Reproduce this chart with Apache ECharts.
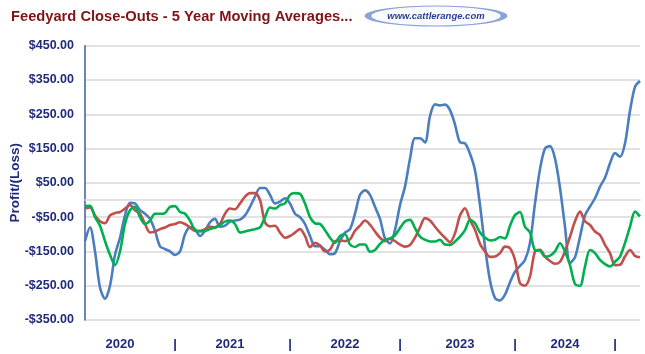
<!DOCTYPE html>
<html>
<head>
<meta charset="utf-8">
<script src="https://cdn.jsdelivr.net/npm/echarts@6/dist/echarts.min.js"></script>
<style>
  html, body { margin: 0; padding: 0; background: #fff; }
  #main { width: 645px; height: 354px; }
</style>
</head>
<body>
<div id="main"></div>
<script>
// weekly points, 2020 -> early 2025
const weeks = [];
for (let i = 0; i < 112; i++) weeks.push(String(i));

// year labels under the axis and where they sit (week index)
const tickText = ['2020', '|', '2021', '|', '2022', '|', '2023', '|', '2024', '|'];
const tickIdx = [7, 18, 29, 41, 52, 63, 75, 86, 96, 106];

const blueSeries = [
  -120, -80, -150, -255, -288, -250, -160, -110, -45, -8, -10, -30, -40, -55, -90, -135, -143, -150, -160, -150,
  -100, -80, -85, -105, -90, -65, -55, -78, -75, -63, -60, -57, -45, -20, 10, 35, 35, 15,
  -10, -5, 5, -10, -40, -50, -70, -105, -135, -135, -145, -158, -155, -120, -95, -85, -40, 15, 28, 15,
  -20, -55, -112, -127, -87, -15, 39, 120, 180, 180, 168, 245, 279, 276, 278, 262, 220, 168,
  165, 135, 87, -15, -136, -235, -286, -293, -276, -240, -209, -192, -175, -125, -10, 90, 150, 157, 121, 35,
  -78, -184, -167, -107, -45, -19, 5, 39, 65, 107, 137, 126, 165, 260, 330, 347
];

const redSeries = [
  -25, -22, -45, -62, -68, -45, -38, -35, -25, -15, -30, -40, -70, -95, -92, -85, -80, -73, -70, -65,
  -70, -80, -90, -90, -85, -78, -80, -70, -40, -25, -27, -10, 10, 20, 20, 0, -65, -77,
  -75, -95, -110, -105, -95, -85, -105, -138, -125, -133, -150, -145, -120, -118, -120, -115, -90, -75, -60, -72,
  -92, -110, -120, -113, -120, -130, -136, -131, -110, -80, -53, -60, -78, -95, -110, -123, -97, -45,
  -24, -58, -87, -128, -150, -166, -165, -155, -136, -141, -175, -243, -250, -223, -150, -145, -165, -178, -186, -180,
  -150, -107, -62, -34, -62, -73, -92, -102, -131, -155, -190, -189, -165, -146, -163, -167
];

const greenSeries = [
  -18, -17, -50, -75, -120, -160, -190, -150, -70, -30, -20, -50, -70, -60, -40, -40, -38, -20, -18, -35,
  -40, -60, -88, -92, -90, -85, -80, -73, -63, -60, -70, -95, -92, -88, -85, -80, -50, -22,
  -25, -15, -10, 15, 20, 18, -10, -50, -68, -70, -88, -110, -125, -105, -100, -130, -137, -130, -130, -151,
  -146, -128, -116, -112, -103, -82, -63, -58, -82, -107, -116, -121, -121, -116, -130, -131, -121, -107,
  -88, -58, -68, -95, -110, -118, -116, -108, -112, -75, -44, -35, -78, -95, -146, -148, -165, -162, -150, -126,
  -150, -190, -245, -250, -194, -146, -155, -175, -187, -194, -180, -165, -125, -78, -34, -48
];

var chartDom = document.getElementById('main');
var myChart = echarts.init(chartDom, null, { renderer: 'canvas' });

var navy = '#1F2A7A';
var labelFont = 'Liberation Sans';

function lineSeries(name, data, color) {
  return {
    name: name,
    type: 'line',
    data: data,
    showSymbol: false,
    smooth: 0.3,
    lineStyle: { color: color, width: 2.6 },
    itemStyle: { color: color }
  };
}

var option = {
  animation: false,
  title: {
    text: 'Feedyard Close-Outs - 5 Year Moving Averages...',
    left: 6,
    top: 4,
    textStyle: {
      color: '#7F1416',
      fontFamily: labelFont,
      fontWeight: 'bold',
      fontSize: 14.7
    }
  },
  graphic: [
    {
      type: 'circle',
      shape: { cx: 0, cy: 0, r: 10 },
      x: 436, y: 16,
      scaleX: 6.8, scaleY: 1,
      style: { fill: '#FAFBFE', stroke: '#8EA2DA', lineWidth: 1, strokeNoScale: true }
    },
    {
      type: 'text',
      x: 436, y: 16,
      style: {
        text: 'www.cattlerange.com',
        fill: '#2B3F92',
        font: 'italic bold 9.5px "Liberation Sans Narrow", "Liberation Sans"',
        align: 'center',
        verticalAlign: 'middle'
      }
    }
  ],
  grid: {
    left: 85,
    right: 5,
    top: 45.7,
    bottom: 34,
    outerBoundsMode: 'none',
    containLabel: false
  },
  xAxis: [
    {
      type: 'category',
      data: weeks,
      boundaryGap: false,
      axisLine: { onZero: true, lineStyle: { color: '#D9D9D9', width: 1.5 } },
      axisTick: { show: false },
      axisLabel: { show: false },
      splitLine: { show: false }
    },
    {
      type: 'category',
      data: weeks,
      position: 'bottom',
      boundaryGap: false,
      axisLine: { show: false },
      axisTick: { show: false },
      axisLabel: {
        interval: 0,
        margin: 18,
        color: navy,
        fontFamily: labelFont,
        fontWeight: 'bold',
        fontSize: 13,
        formatter: function (v, i) {
          var k = tickIdx.indexOf(i);
          return k >= 0 ? tickText[k] : '';
        }
      }
    }
  ],
  yAxis: {
    type: 'value',
    min: -350,
    max: 450,
    interval: 100,
    name: 'Profit/(Loss)',
    nameLocation: 'middle',
    nameGap: 63,
    nameMoveOverlap: false,
    nameTextStyle: {
      color: navy,
      fontFamily: labelFont,
      fontWeight: 'bold',
      fontSize: 13.5
    },
    axisLine: { show: true, lineStyle: { color: '#3D5E9E', width: 1.5 } },
    axisTick: { show: false },
    axisLabel: {
      margin: 11,
      color: navy,
      fontFamily: labelFont,
      fontWeight: 'bold',
      fontSize: 12.5,
      formatter: function (v) {
        return (v < 0 ? '-$' : '$') + Math.abs(v).toFixed(2);
      }
    },
    splitLine: { lineStyle: { color: '#D9D9D9', width: 1.5 } }
  },
  series: [
    lineSeries('blue', blueSeries, '#4A7EBF'),
    lineSeries('red', redSeries, '#C0504D'),
    lineSeries('green', greenSeries, '#00B050')
  ]
};

myChart.setOption(option);
</script>
</body>
</html>
